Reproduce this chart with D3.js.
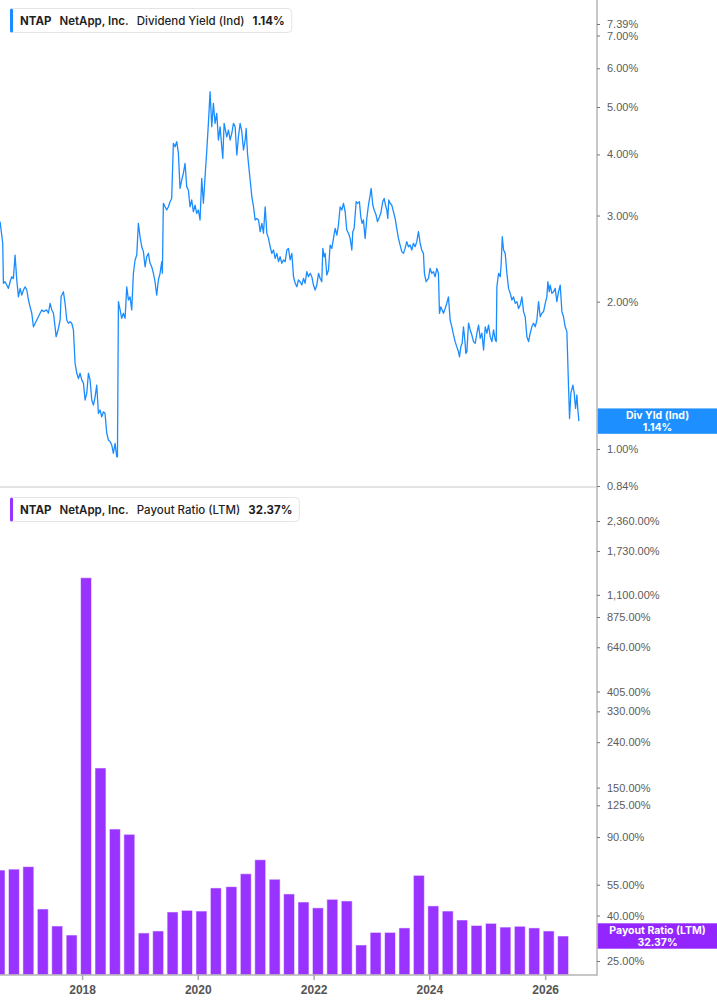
<!DOCTYPE html>
<html><head><meta charset="utf-8">
<script src="https://cdn.jsdelivr.net/npm/d3@7"></script>
<style>
html,body{margin:0;padding:0;background:#fff;}
svg{display:block;}
</style></head>
<body>
<svg id="chart" width="717" height="1005"></svg>
<script>
// ---------- DATA ----------
const ticker = "NTAP";
const company = "NetApp, Inc.";
const yieldName = "Dividend Yield (Ind)";
const yieldShort = "Div Yld (Ind)";
const yieldLast = 1.14;
const payoutName = "Payout Ratio (LTM)";
const payoutLast = 32.37;

const yieldTicks = [0.84, 1, 2, 3, 4, 5, 6, 7, 7.39];
const payoutTicks = [25, 40, 55, 90, 125, 150, 240, 330, 405, 640, 875, 1100, 1730, 2360];
const yearTicks = [2018, 2020, 2022, 2024, 2026];

// dividend yield (%), time as decimal year
const yieldYears = [
2016.583,2016.629,2016.641,2016.669,2016.698,2016.727,2016.756,2016.785,2016.813,2016.842,
2016.871,2016.900,2016.929,2016.957,2016.986,2017.015,2017.044,2017.073,2017.101,2017.130,
2017.159,2017.217,2017.274,2017.303,2017.332,2017.389,2017.418,2017.447,2017.476,2017.505,
2017.533,2017.551,2017.591,2017.620,2017.637,2017.677,2017.706,2017.735,2017.764,2017.793,
2017.821,2017.850,2017.879,2017.908,2017.937,2017.965,2017.994,2018.023,2018.052,2018.081,
2018.109,2018.138,2018.167,2018.196,2018.225,2018.253,2018.282,2018.311,2018.340,2018.369,
2018.397,2018.426,2018.455,2018.484,2018.513,2018.541,2018.570,2018.599,2018.611,2018.628,
2018.657,2018.685,2018.714,2018.743,2018.772,2018.801,2018.829,2018.858,2018.887,2018.916,
2018.945,2018.973,2019.002,2019.031,2019.060,2019.089,2019.117,2019.146,2019.175,2019.204,
2019.233,2019.261,2019.290,2019.319,2019.348,2019.377,2019.388,2019.405,2019.434,2019.463,
2019.492,2019.521,2019.549,2019.578,2019.607,2019.636,2019.665,2019.693,2019.722,2019.751,
2019.780,2019.809,2019.837,2019.866,2019.895,2019.924,2019.953,2019.981,2020.010,2020.039,
2020.068,2020.097,2020.125,2020.154,2020.183,2020.212,2020.241,2020.269,2020.298,2020.327,
2020.356,2020.385,2020.413,2020.431,2020.454,2020.500,2020.529,2020.557,2020.586,2020.615,
2020.644,2020.673,2020.701,2020.730,2020.759,2020.788,2020.817,2020.834,2020.857,2020.874,
2020.903,2020.932,2020.961,2020.989,2021.018,2021.047,2021.076,2021.105,2021.133,2021.162,
2021.191,2021.220,2021.249,2021.277,2021.306,2021.335,2021.364,2021.393,2021.421,2021.450,
2021.479,2021.508,2021.537,2021.565,2021.594,2021.623,2021.652,2021.681,2021.709,2021.738,
2021.767,2021.796,2021.825,2021.853,2021.882,2021.911,2021.940,2021.969,2021.997,2022.026,
2022.055,2022.084,2022.113,2022.141,2022.159,2022.182,2022.199,2022.228,2022.257,2022.285,
2022.314,2022.343,2022.372,2022.401,2022.429,2022.458,2022.487,2022.516,2022.545,2022.573,
2022.602,2022.631,2022.660,2022.677,2022.700,2022.735,2022.758,2022.792,2022.815,2022.838,
2022.861,2022.890,2022.919,2022.948,2022.977,2022.994,2023.023,2023.046,2023.080,2023.103,
2023.138,2023.161,2023.195,2023.219,2023.242,2023.265,2023.282,2023.299,2023.322,2023.351,
2023.380,2023.409,2023.437,2023.466,2023.495,2023.524,2023.553,2023.581,2023.610,2023.639,
2023.668,2023.697,2023.725,2023.754,2023.783,2023.812,2023.841,2023.869,2023.898,2023.915,
2023.944,2023.985,2024.013,2024.042,2024.071,2024.100,2024.129,2024.157,2024.175,2024.198,
2024.221,2024.244,2024.273,2024.301,2024.330,2024.359,2024.388,2024.417,2024.445,2024.474,
2024.503,2024.520,2024.543,2024.566,2024.589,2024.612,2024.630,2024.647,2024.676,2024.705,
2024.733,2024.762,2024.791,2024.820,2024.849,2024.877,2024.906,2024.935,2024.964,2024.993,
2025.021,2025.050,2025.079,2025.108,2025.137,2025.154,2025.165,2025.194,2025.223,2025.240,
2025.258,2025.281,2025.309,2025.338,2025.367,2025.396,2025.425,2025.453,2025.482,2025.511,
2025.540,2025.569,2025.597,2025.626,2025.655,2025.684,2025.713,2025.741,2025.770,2025.799,
2025.828,2025.857,2025.885,2025.914,2025.943,2025.972,2026.001,2026.029,2026.047,2026.070,
2026.087,2026.116,2026.145,2026.173,2026.202,2026.231,2026.260,2026.289,2026.317,2026.346,
2026.375,2026.404,2026.421,2026.444,2026.479,2026.502,2026.525,2026.548,2026.565,2026.583
];
const yieldValues = [
2.915,2.633,2.181,2.197,2.163,2.129,2.197,2.249,2.231,2.491,
2.215,2.046,2.129,2.063,2.113,2.145,2.113,2.016,1.952,1.894,
1.777,1.835,1.894,1.924,1.909,1.924,1.894,1.985,1.924,1.894,
1.777,1.696,1.763,1.835,2.046,2.096,1.985,1.835,1.807,1.820,
1.807,1.751,1.496,1.428,1.393,1.428,1.384,1.363,1.259,1.300,
1.428,1.384,1.259,1.229,1.278,1.351,1.182,1.201,1.163,1.191,
1.182,1.077,1.043,1.035,1.018,0.980,1.027,0.964,0.964,2.000,
1.924,1.849,1.894,1.849,2.145,2.016,2.046,1.924,2.286,2.434,
2.491,2.892,2.715,2.590,2.531,2.357,2.471,2.511,2.396,2.357,
2.286,2.197,2.063,2.215,2.286,2.415,2.286,3.178,3.126,3.079,
3.126,3.202,3.251,4.215,4.146,4.247,4.021,3.408,3.546,3.659,
3.836,3.434,3.383,3.126,3.228,3.054,3.152,3.031,3.079,2.938,
3.572,3.178,3.600,4.051,4.630,5.373,4.555,5.088,4.630,4.854,
4.281,4.555,4.146,3.925,4.630,4.346,4.487,4.281,4.417,4.630,
4.555,3.988,4.346,4.630,4.451,4.084,4.281,4.520,4.021,3.836,
3.546,3.276,3.126,2.938,2.959,2.938,2.781,2.892,2.760,3.126,
2.760,2.694,2.590,2.511,2.551,2.452,2.511,2.415,2.471,2.396,
2.434,2.415,2.551,2.570,2.434,2.511,2.249,2.181,2.145,2.215,
2.197,2.163,2.231,2.181,2.303,2.249,2.286,2.249,2.163,2.113,
2.163,2.286,2.231,2.197,2.570,2.471,2.511,2.267,2.322,2.611,
2.570,2.694,2.823,2.737,2.869,3.126,3.079,3.178,3.054,2.803,
2.760,2.694,2.551,2.781,2.823,3.202,3.178,3.202,2.982,2.892,
2.938,2.694,2.959,3.152,3.303,3.408,3.152,3.079,3.007,2.915,
2.982,3.031,3.202,3.251,3.152,3.079,2.959,3.228,3.178,3.152,
3.054,2.959,2.823,2.694,2.611,2.531,2.511,2.570,2.653,2.590,
2.611,2.551,2.633,2.590,2.653,2.781,2.633,2.551,2.511,2.286,
2.197,2.231,2.339,2.286,2.303,2.249,2.339,2.286,1.894,1.952,
1.924,1.894,1.937,1.985,2.046,1.835,1.777,1.710,1.657,1.617,
1.580,1.543,1.617,1.644,1.777,1.670,1.568,1.580,1.807,1.751,
1.710,1.657,1.644,1.724,1.792,1.683,1.724,1.593,1.777,1.724,
1.792,1.696,1.657,1.751,1.670,1.657,2.145,2.286,2.249,2.396,
2.715,2.551,2.511,2.286,2.129,2.080,2.016,2.046,1.985,2.000,
1.937,1.969,2.046,1.909,1.863,1.696,1.657,1.724,1.777,1.807,
1.777,1.835,2.000,1.863,1.894,1.909,1.985,2.046,2.197,2.096,
2.163,2.080,2.096,2.129,2.000,2.096,2.163,1.909,1.863,1.777,
1.737,1.340,1.154,1.300,1.351,1.300,1.210,1.289,1.201,1.140
];

// quarterly payout ratio (LTM, %), fiscal quarter end dates
const payoutDates = [
"2016-07-29","2016-10-28","2017-01-27","2017-04-28","2017-07-28","2017-10-27",
"2018-01-26","2018-04-27","2018-07-27","2018-10-26","2019-01-25","2019-04-26",
"2019-07-26","2019-10-25","2020-01-24","2020-04-24","2020-07-31","2020-10-30",
"2021-01-29","2021-04-30","2021-07-30","2021-10-29","2022-01-28","2022-04-29",
"2022-07-29","2022-10-28","2023-01-27","2023-04-28","2023-07-28","2023-10-27",
"2024-01-26","2024-04-26","2024-07-26","2024-10-25","2025-01-24","2025-04-25",
"2025-07-25","2025-10-24","2026-01-23","2026-04-24"
];
const payoutValues = [
64.0, 64.6, 66.3, 42.8, 35.9, 32.7,
1313, 183.8, 97.8, 92.6, 33.4, 34.1,
41.5, 42.2, 41.9, 53.2, 53.9, 61.6,
71.2, 58.2, 50.0, 46.0, 43.3, 47.3,
46.5, 29.5, 33.6, 33.6, 35.2, 60.6,
44.2, 41.9, 38.2, 36.1, 36.9, 35.5,
35.8, 35.2, 34.1, 32.37
];

// ---------- STYLE / LAYOUT ----------
const W = 717, H = 1005;
const AX = 597;              // right axis x
const TOP_BOTTOM = 487;      // separator between panels
const BOT_BOTTOM = 975;      // x-axis line
const BLUE = "#1b8cff", BLUE_BOX = "#1e8fff";
const PURPLE = "#9933ff", PURPLE_BOX = "#9326fe";
const FONT_UI = "Inter, 'Noto Sans', sans-serif";
const FONT_AX = "'Liberation Sans', Arial, sans-serif";

const svg = d3.select("#chart");
svg.append("rect").attr("width", W).attr("height", H).attr("fill", "#fff");

function decYear(y) {
  const yr = Math.floor(y);
  const s = Date.UTC(yr, 0, 1), e = Date.UTC(yr + 1, 0, 1);
  return new Date(s + (y - yr) * (e - s));
}
const parse = d3.utcParse("%Y-%m-%d");

const x = d3.scaleUtc()
  .domain([new Date(Date.UTC(2016, 7, 1)), new Date(Date.UTC(2026, 10, 24))])
  .range([0, AX]);
const yTop = d3.scaleLog().domain([0.84, 7.39]).range([486, 24]);
const yBot = d3.scaleLog().domain([25, 2360]).range([961, 521]);

const defs = svg.append("defs");
defs.append("clipPath").attr("id", "clipTop").append("rect")
  .attr("x", 0).attr("y", 0).attr("width", AX).attr("height", TOP_BOTTOM);
defs.append("clipPath").attr("id", "clipBot").append("rect")
  .attr("x", 0).attr("y", TOP_BOTTOM).attr("width", AX).attr("height", BOT_BOTTOM - TOP_BOTTOM);

// ---------- BARS ----------
const payout = payoutDates.map((d, i) => ({ date: parse(d), v: payoutValues[i] }));
const qStep = x(new Date(Date.UTC(2020, 3, 1))) - x(new Date(Date.UTC(2020, 0, 1)));
const bw = qStep * 0.76;
svg.append("g").attr("clip-path", "url(#clipBot)")
  .selectAll("rect").data(payout).join("rect")
  .attr("x", d => x(d.date) - bw / 2)
  .attr("y", d => yBot(d.v))
  .attr("width", bw)
  .attr("height", d => BOT_BOTTOM - yBot(d.v))
  .attr("fill", PURPLE)
  .attr("stroke", "#ffffff").attr("stroke-opacity", 0.55).attr("stroke-width", 1);

// ---------- LINE ----------
const yld = yieldYears.map((t, i) => ({ date: decYear(t), v: yieldValues[i] }));
svg.append("g").attr("clip-path", "url(#clipTop)")
  .append("path").datum(yld)
  .attr("fill", "none").attr("stroke", BLUE).attr("stroke-width", 1.3)
  .attr("stroke-linejoin", "round")
  .attr("d", d3.line().x(d => x(d.date)).y(d => yTop(d.v)));

// ---------- AXES ----------
const gridColor = "#b5b5b5";
svg.append("line").attr("x1", AX).attr("x2", AX).attr("y1", 0).attr("y2", BOT_BOTTOM + 0.75)
  .attr("stroke", gridColor).attr("stroke-width", 1.5);
svg.append("line").attr("x1", 0).attr("x2", AX).attr("y1", TOP_BOTTOM).attr("y2", TOP_BOTTOM)
  .attr("stroke", "#c8c8c8").attr("stroke-width", 1);
svg.append("line").attr("x1", 0).attr("x2", AX).attr("y1", BOT_BOTTOM).attr("y2", BOT_BOTTOM)
  .attr("stroke", gridColor).attr("stroke-width", 1.5);

const pctFmt = d => d3.format(",.2f")(d) + "%";
function styleAxis(g) {
  g.select(".domain").remove();
  g.selectAll(".tick line").attr("stroke", "#777").attr("stroke-width", 1);
  g.selectAll(".tick text").attr("fill", "#5c5c5c")
    .style("font-family", FONT_AX).style("font-size", "11px");
}
svg.append("g").attr("transform", `translate(${AX},0)`)
  .call(d3.axisRight(yTop).tickValues(yieldTicks).tickFormat(pctFmt).tickSize(3).tickPadding(7))
  .call(styleAxis);
svg.append("g").attr("transform", `translate(${AX},0)`)
  .call(d3.axisRight(yBot).tickValues(payoutTicks).tickFormat(pctFmt).tickSize(3).tickPadding(7))
  .call(styleAxis);

const gx = svg.append("g").attr("transform", `translate(0,${BOT_BOTTOM})`)
  .call(d3.axisBottom(x).tickValues(yearTicks.map(y => new Date(Date.UTC(y, 0, 1))))
    .tickFormat(d3.utcFormat("%Y")).tickSize(5).tickPadding(5));
gx.select(".domain").remove();
gx.selectAll(".tick line").attr("stroke", "#aaa").attr("stroke-width", 1.5);
gx.selectAll(".tick text").attr("fill", "#555")
  .style("font-family", FONT_AX).style("font-size", "12px").style("font-weight", "bold");

// ---------- VALUE BOXES ----------
function valueBox(yc, color, line1, line2) {
  const g = svg.append("g");
  g.append("rect").attr("x", AX + 0.75).attr("y", yc - 12.7).attr("width", W - AX).attr("height", 25.4)
    .attr("fill", color);
  const cx = (AX + W) / 2 + 0.5;
  const t = g.append("text").attr("text-anchor", "middle").attr("fill", "#fff")
    .style("font-family", FONT_UI).style("font-size", "10.5px").style("font-weight", 700);
  t.append("tspan").attr("x", cx).attr("y", yc - 5.4).attr("dy", "0.35em").text(line1);
  t.append("tspan").attr("x", cx).attr("y", yc + 6.0).attr("dy", "0.35em").text(line2);
}
valueBox(yTop(yieldLast), BLUE_BOX, yieldShort, d3.format(".2f")(yieldLast) + "%");
valueBox(yBot(payoutLast), PURPLE_BOX, payoutName, d3.format(".2f")(payoutLast) + "%");

// ---------- LEGENDS ----------
function legend(x0, y0, color, metric, value) {
  const g = svg.append("g").attr("transform", `translate(${x0},${y0})`);
  const box = g.append("rect").attr("x", 0.5).attr("y", 0.5).attr("height", 24).attr("rx", 4)
    .attr("fill", "#fff").attr("stroke", "#e4e4e4");
  g.append("rect").attr("x", 0).attr("y", 0.5).attr("width", 3).attr("height", 24).attr("rx", 1.5)
    .attr("fill", color);
  const parts = [
    { t: ticker, w: 700 }, { t: company, w: 600 }, { t: metric, w: 500 }, { t: value, w: 700 }
  ];
  let cx = 10;
  parts.forEach((p, i) => {
    const t = g.append("text").attr("x", cx).attr("y", 12.5).attr("dy", "0.36em")
      .attr("fill", "#1f1f1f")
      .style("font-family", FONT_UI).style("font-size", "11.5px").style("font-weight", p.w)
      .text(p.t);
    cx += t.node().getComputedTextLength() + (i < parts.length - 1 ? 8 : 6.5);
  });
  box.attr("width", cx);
}
legend(10, 8, BLUE, yieldName, d3.format(".2f")(yieldLast) + "%");
legend(10, 497, PURPLE, payoutName, d3.format(".2f")(payoutLast) + "%");
</script>
</body></html>
